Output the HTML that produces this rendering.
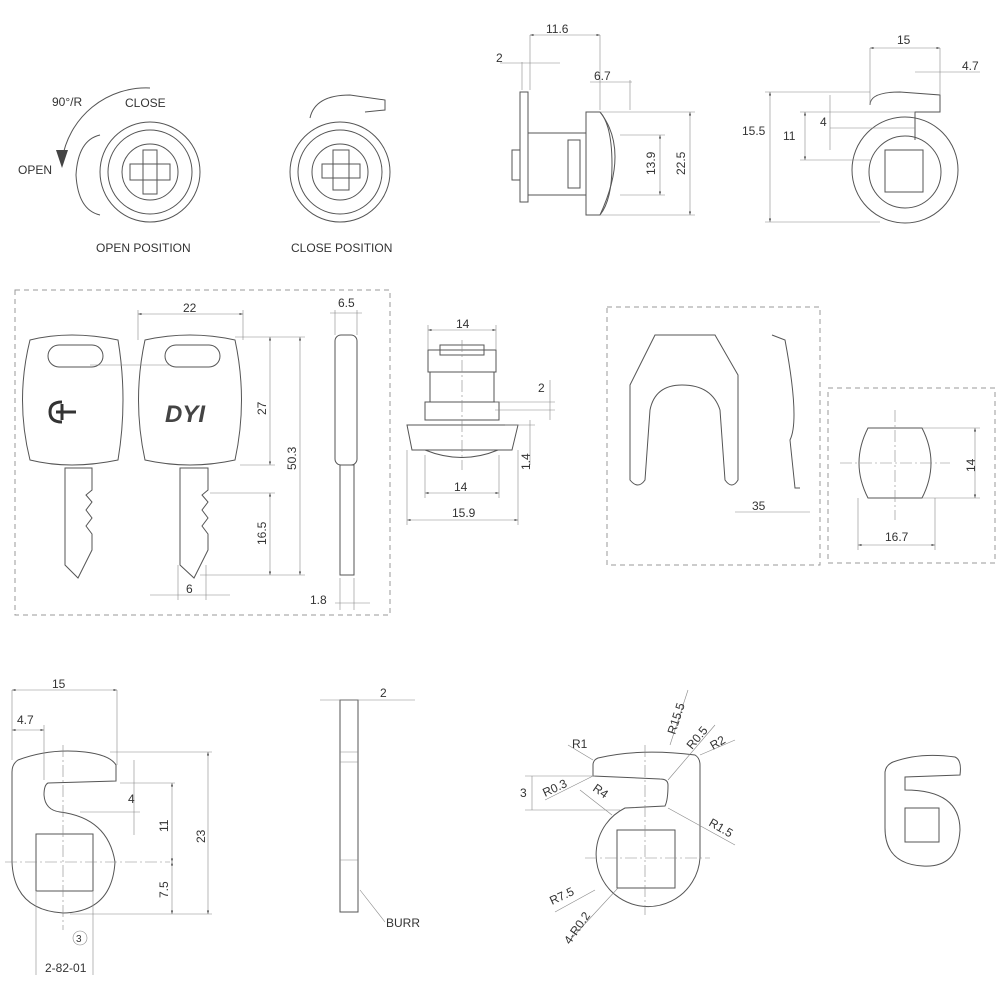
<!DOCTYPE html>
<html><head><meta charset="utf-8"><style>
html,body{margin:0;padding:0;background:#fff}
svg{display:block}
text{font-family:"Liberation Sans",sans-serif;font-size:12px;fill:#333}
.l{stroke:#555;stroke-width:1;fill:none}
.t{stroke:#888;stroke-width:0.6;fill:none}
.c{stroke:#888;stroke-width:0.6;fill:none;stroke-dasharray:12 3 2 3}
.d{stroke:#999;stroke-width:1;fill:none;stroke-dasharray:5 4}
</style></head><body>
<svg width="1000" height="1000" viewBox="0 0 1000 1000" xmlns="http://www.w3.org/2000/svg">
<defs><marker id="a" viewBox="0 0 10 10" refX="10" refY="5" markerWidth="6" markerHeight="6" orient="auto-start-reverse"><path d="M0,2 L10,5 L0,8z" fill="#444"/></marker></defs>

<!-- OPEN POSITION -->
<path class="l" d="M150,88 A85,85 0 0 0 62,160"/>
<path d="M56,150 L62,168 L68,150z" fill="#444"/>
<path class="l" d="M100,135 Q78,140 76,175 Q78,210 100,215"/>
<circle class="l" cx="150" cy="172" r="50"/><circle class="l" cx="150" cy="172" r="42"/><circle class="l" cx="150" cy="172" r="28"/>
<rect class="l" x="130" y="164" width="40" height="16"/><rect class="l" x="143" y="150" width="14" height="44"/>
<text x="52" y="106">90°/R</text><text x="125" y="107">CLOSE</text><text x="18" y="174">OPEN</text>
<text x="96" y="252">OPEN POSITION</text>
<!-- CLOSE POSITION -->
<path class="l" d="M310,118 Q315,95 350,95 L385,100 L385,110 L365,112"/>
<circle class="l" cx="340" cy="172" r="50"/><circle class="l" cx="340" cy="172" r="42"/><circle class="l" cx="340" cy="172" r="28"/>
<rect class="l" x="333" y="150" width="16" height="40"/><rect class="l" x="322" y="164" width="38" height="14"/>
<text x="291" y="252">CLOSE POSITION</text>
<!-- side view -->
<rect class="l" x="520" y="92" width="8" height="110"/>
<rect class="l" x="512" y="150" width="8" height="30"/>
<rect class="l" x="528" y="133" width="58" height="62"/>
<rect class="l" x="568" y="140" width="12" height="48"/>
<path class="l" d="M586,112 L600,112 Q630,150 600,215 L586,215z"/><path class="l" d="M600,112 Q612,125 612,165 Q612,200 600,215"/>
<line class="t" x1="522" y1="62" x2="522" y2="90"/><line class="t" x1="530" y1="35" x2="530" y2="90"/>
<line class="t" x1="600" y1="35" x2="600" y2="110"/><line class="t" x1="630" y1="80" x2="630" y2="110"/>
<line class="t" x1="530" y1="35" x2="600" y2="35" marker-start="url(#a)" marker-end="url(#a)"/>
<line class="t" x1="500" y1="63" x2="560" y2="63"/><line class="t" x1="590" y1="82" x2="632" y2="82"/>
<line class="t" x1="600" y1="112" x2="695" y2="112"/><line class="t" x1="600" y1="215" x2="695" y2="215"/>
<line class="t" x1="620" y1="135" x2="665" y2="135"/><line class="t" x1="620" y1="195" x2="665" y2="195"/>
<line class="t" x1="660" y1="135" x2="660" y2="195" marker-start="url(#a)" marker-end="url(#a)"/>
<line class="t" x1="690" y1="112" x2="690" y2="215" marker-start="url(#a)" marker-end="url(#a)"/>
<text x="546" y="33">11.6</text><text x="496" y="62">2</text><text x="594" y="80">6.7</text>
<text transform="translate(655,175) rotate(-90)">13.9</text><text transform="translate(685,175) rotate(-90)">22.5</text>
<!-- top right -->
<circle class="l" cx="905" cy="170" r="53"/><circle class="l" cx="905" cy="172" r="36"/>
<rect class="l" x="885" y="150" width="38" height="42"/>
<path class="l" d="M870,105 Q870,92 900,92 L940,95 L940,112 L915,112 L915,140"/>
<line class="t" x1="870" y1="48" x2="870" y2="105"/><line class="t" x1="940" y1="48" x2="940" y2="95"/>
<line class="t" x1="870" y1="48" x2="940" y2="48" marker-start="url(#a)" marker-end="url(#a)"/>
<line class="t" x1="915" y1="72" x2="980" y2="72"/><text x="962" y="70">4.7</text><text x="897" y="44">15</text>
<line class="t" x1="765" y1="92" x2="870" y2="92"/><line class="t" x1="765" y1="222" x2="880" y2="222"/>
<line class="t" x1="770" y1="92" x2="770" y2="222" marker-start="url(#a)" marker-end="url(#a)"/>
<line class="t" x1="800" y1="112" x2="915" y2="112"/><line class="t" x1="800" y1="160" x2="870" y2="160"/>
<line class="t" x1="805" y1="112" x2="805" y2="160" marker-start="url(#a)" marker-end="url(#a)"/>
<line class="t" x1="830" y1="128" x2="915" y2="128"/><line class="t" x1="830" y1="95" x2="830" y2="150"/>
<text x="742" y="135">15.5</text><text x="783" y="140">11</text><text x="820" y="126">4</text>

<!-- key box -->
<rect class="d" x="15" y="290" width="375" height="325"/>
<path class="l" d="M30,340 Q70,330 118,340 Q128,400 118,460 Q70,470 30,460 Q15,400 30,340z"/>
<rect class="l" x="48" y="345" width="55" height="22" rx="11"/>
<path class="l" d="M145,340 Q190,330 235,340 Q248,400 235,460 Q190,470 145,460 Q132,400 145,340z"/>
<rect class="l" x="165" y="345" width="55" height="22" rx="11"/>
<line class="t" x1="90" y1="365" x2="170" y2="365"/>
<path d="M62,402 Q50,402 50,412 Q50,422 62,422 M56,412 L76,412 M62,404 L62,420" stroke="#333" stroke-width="3" fill="none"/>
<text x="165" y="422" style="font-size:24px;font-weight:bold;font-style:italic;fill:#444">DYI</text>
<path class="l" d="M65,468 L92,468 L92,490 L86,495 L92,502 L86,510 L92,518 L86,526 L92,534 L92,550 L78,578 L65,565z"/>
<path class="l" d="M180,468 L208,468 L208,490 L202,495 L208,502 L202,510 L208,518 L202,526 L208,534 L208,550 L194,578 L180,565z"/>
<rect class="l" x="335" y="335" width="22" height="130" rx="6"/><rect class="l" x="340" y="465" width="14" height="110"/>
<line class="t" x1="138" y1="310" x2="138" y2="340"/><line class="t" x1="243" y1="310" x2="243" y2="340"/>
<line class="t" x1="138" y1="314" x2="243" y2="314" marker-start="url(#a)" marker-end="url(#a)"/><text x="183" y="312">22</text>
<line class="t" x1="235" y1="337" x2="305" y2="337"/><line class="t" x1="240" y1="465" x2="275" y2="465"/><line class="t" x1="200" y1="575" x2="305" y2="575"/><line class="t" x1="210" y1="493" x2="275" y2="493"/>
<line class="t" x1="270" y1="337" x2="270" y2="465" marker-start="url(#a)" marker-end="url(#a)"/>
<line class="t" x1="300" y1="337" x2="300" y2="575" marker-start="url(#a)" marker-end="url(#a)"/>
<line class="t" x1="270" y1="493" x2="270" y2="575" marker-start="url(#a)" marker-end="url(#a)"/>
<text transform="translate(266,415) rotate(-90)">27</text><text transform="translate(296,470) rotate(-90)">50.3</text><text transform="translate(266,545) rotate(-90)">16.5</text>
<line class="t" x1="178" y1="565" x2="178" y2="600"/><line class="t" x1="206" y1="565" x2="206" y2="600"/><line class="t" x1="150" y1="595" x2="230" y2="595"/><text x="186" y="593">6</text>
<line class="t" x1="335" y1="310" x2="335" y2="335"/><line class="t" x1="357" y1="310" x2="357" y2="335"/><line class="t" x1="330" y1="313" x2="362" y2="313"/><text x="338" y="307">6.5</text>
<line class="t" x1="340" y1="578" x2="340" y2="610"/><line class="t" x1="354" y1="578" x2="354" y2="610"/><line class="t" x1="335" y1="603" x2="370" y2="603"/><text x="310" y="604">1.8</text>

<!-- cylinder -->
<rect class="l" x="428" y="350" width="68" height="22"/><rect class="l" x="440" y="345" width="44" height="10"/>
<rect class="l" x="430" y="372" width="64" height="30"/><rect class="l" x="425" y="402" width="74" height="18"/>
<path class="l" d="M407,425 L518,425 L512,450 L412,450z"/><path class="l" d="M425,450 Q462,465 498,450"/>
<line class="c" x1="462" y1="340" x2="462" y2="470"/>
<line class="t" x1="428" y1="330" x2="496" y2="330" marker-start="url(#a)" marker-end="url(#a)"/><line class="t" x1="428" y1="325" x2="428" y2="350"/><line class="t" x1="496" y1="325" x2="496" y2="350"/><text x="456" y="328">14</text>
<line class="t" x1="425" y1="493" x2="499" y2="493" marker-start="url(#a)" marker-end="url(#a)"/><line class="t" x1="425" y1="455" x2="425" y2="498"/><line class="t" x1="499" y1="455" x2="499" y2="498"/><text x="454" y="491">14</text>
<line class="t" x1="407" y1="520" x2="518" y2="520" marker-start="url(#a)" marker-end="url(#a)"/><line class="t" x1="407" y1="450" x2="407" y2="525"/><line class="t" x1="518" y1="450" x2="518" y2="525"/><text x="452" y="517">15.9</text>
<line class="t" x1="495" y1="402" x2="555" y2="402"/><line class="t" x1="495" y1="410" x2="555" y2="410"/><line class="t" x1="550" y1="380" x2="550" y2="420"/><text x="538" y="392">2</text>
<line class="t" x1="505" y1="425" x2="535" y2="425"/><line class="t" x1="530" y1="420" x2="530" y2="465"/><text transform="translate(530,470) rotate(-90)">1.4</text>

<!-- clip box -->
<rect class="d" x="607" y="307" width="213" height="258"/>
<path class="l" d="M630,385 L655,335 L715,335 L738,375 L738,480 Q732,490 725,480 L720,410 Q712,385 682,385 Q655,385 650,410 L645,480 Q638,490 630,480z"/>
<path class="l" d="M772,335 L785,340 Q800,420 790,440 L795,488 L800,488"/>
<line class="t" x1="735" y1="512" x2="810" y2="512"/><text x="752" y="510">35</text>
<rect class="d" x="828" y="388" width="167" height="175"/>
<path class="l" d="M868,428 L922,428 Q940,463 922,498 L868,498 Q850,463 868,428z"/>
<line class="c" x1="840" y1="463" x2="950" y2="463"/><line class="c" x1="895" y1="410" x2="895" y2="520"/>
<line class="t" x1="922" y1="428" x2="980" y2="428"/><line class="t" x1="922" y1="498" x2="980" y2="498"/>
<line class="t" x1="975" y1="428" x2="975" y2="498" marker-start="url(#a)" marker-end="url(#a)"/><text transform="translate(975,472) rotate(-90)">14</text>
<line class="t" x1="858" y1="498" x2="858" y2="550"/><line class="t" x1="935" y1="498" x2="935" y2="550"/>
<line class="t" x1="858" y1="545" x2="935" y2="545" marker-start="url(#a)" marker-end="url(#a)"/><text x="885" y="541">16.7</text>

<!-- bottom left cam -->
<path class="l" d="M18,760 Q50,748 85,752 Q110,755 116,765 L116,781 L48,783 Q44,785 44,795 Q45,810 60,812 Q108,818 115,862 Q112,912 63,913 Q14,910 12,862 L12,772 Q12,764 18,760z"/>
<rect class="l" x="36" y="834" width="57" height="57"/>
<line class="c" x1="63" y1="745" x2="63" y2="930"/><line class="c" x1="5" y1="862" x2="170" y2="862"/>
<line class="t" x1="12" y1="690" x2="12" y2="760"/><line class="t" x1="117" y1="690" x2="117" y2="765"/><line class="t" x1="44" y1="725" x2="44" y2="780"/>
<line class="t" x1="12" y1="690" x2="117" y2="690" marker-start="url(#a)" marker-end="url(#a)"/><text x="52" y="688">15</text>
<line class="t" x1="12" y1="730" x2="44" y2="730" marker-start="url(#a)" marker-end="url(#a)"/><text x="17" y="724">4.7</text>
<line class="t" x1="110" y1="752" x2="212" y2="752"/><line class="t" x1="120" y1="783" x2="175" y2="783"/><line class="t" x1="80" y1="812" x2="140" y2="812"/><line class="t" x1="70" y1="914" x2="212" y2="914"/>
<line class="t" x1="134" y1="760" x2="134" y2="835"/><text x="128" y="803">4</text>
<line class="t" x1="172" y1="783" x2="172" y2="862" marker-start="url(#a)" marker-end="url(#a)"/><text transform="translate(168,832) rotate(-90)">11</text>
<line class="t" x1="172" y1="862" x2="172" y2="914" marker-start="url(#a)" marker-end="url(#a)"/><text transform="translate(168,898) rotate(-90)">7.5</text>
<line class="t" x1="208" y1="752" x2="208" y2="914" marker-start="url(#a)" marker-end="url(#a)"/><text transform="translate(205,843) rotate(-90)">23</text>
<line class="t" x1="36" y1="892" x2="36" y2="975"/><line class="t" x1="93" y1="892" x2="93" y2="975"/>
<circle class="t" cx="80" cy="938" r="7"/><text x="76" y="942" style="font-size:10px">3</text>
<text x="45" y="972">2-82-01</text>
<!-- side bar -->
<rect class="l" x="340" y="700" width="18" height="212"/><line class="t" x1="340" y1="752" x2="358" y2="752"/><line class="t" x1="340" y1="762" x2="358" y2="762"/><line class="t" x1="340" y1="860" x2="358" y2="860"/>
<line class="t" x1="320" y1="700" x2="415" y2="700"/><text x="380" y="697">2</text>
<line class="t" x1="360" y1="890" x2="385" y2="922"/><text x="386" y="927">BURR</text>
<!-- middle cam -->
<path class="l" d="M598,758 Q640,748 695,755 Q700,758 700,765 L700,858 A52,52 0 1 1 625,808 L665,806 Q668,800 668,785 Q668,779 660,779 L593,776 L593,765 Q593,760 598,758z"/>
<rect class="l" x="617" y="830" width="58" height="58"/>
<line class="c" x1="645" y1="745" x2="645" y2="915"/><line class="c" x1="585" y1="858" x2="710" y2="858"/>
<line class="t" x1="525" y1="776" x2="595" y2="776"/><line class="t" x1="525" y1="810" x2="620" y2="810"/><line class="t" x1="532" y1="776" x2="532" y2="810"/><text x="520" y="797">3</text>
<line class="t" x1="568" y1="745" x2="593" y2="760"/><text x="572" y="748">R1</text>
<line class="t" x1="688" y1="690" x2="670" y2="745"/><text transform="translate(675,735) rotate(-72)">R15.5</text>
<line class="t" x1="715" y1="725" x2="668" y2="780"/><text transform="translate(692,750) rotate(-50)">R0.5</text>
<line class="t" x1="735" y1="740" x2="700" y2="755"/><text transform="translate(713,750) rotate(-30)">R2</text>
<line class="t" x1="545" y1="800" x2="593" y2="776"/><text transform="translate(545,797) rotate(-25)">R0.3</text>
<line class="t" x1="580" y1="790" x2="612" y2="815"/><text transform="translate(592,790) rotate(35)">R4</text>
<line class="t" x1="668" y1="808" x2="735" y2="845"/><text transform="translate(708,825) rotate(30)">R1.5</text>
<line class="t" x1="555" y1="912" x2="595" y2="890"/><text transform="translate(552,905) rotate(-25)">R7.5</text>
<line class="t" x1="570" y1="940" x2="618" y2="888"/><text transform="translate(570,945) rotate(-55)">4-R0.2</text>
<!-- small cam -->
<path class="l" d="M893,762 Q920,752 955,757 Q962,760 960,775 L905,777 L905,790 Q960,790 960,830 Q958,868 923,866 Q885,864 885,828 L885,772 Q886,765 893,762z"/>
<rect class="l" x="905" y="808" width="34" height="34"/>
</svg>
</body></html>
